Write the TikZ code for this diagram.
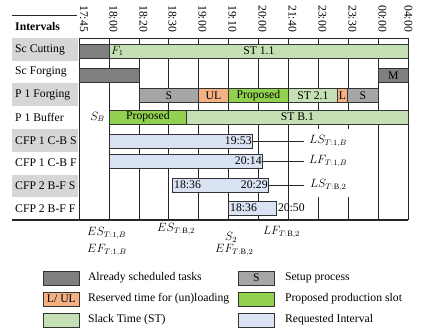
\documentclass[tikz,border=0pt]{standalone}
\usepackage{fontspec}
\setmainfont{Liberation Serif}
\usepackage{tikz}
\usetikzlibrary{positioning}
\definecolor{oldgray}{HTML}{7F7F7F}
\definecolor{setupgray}{HTML}{A6A6A6}
\definecolor{loadorange}{HTML}{F4B183}
\definecolor{propgreen}{HTML}{92D050}
\definecolor{slackgreen}{HTML}{C5E0B4}
\definecolor{reqblue}{HTML}{DAE3F3}
\definecolor{rowgray}{HTML}{D6D6D6}
\tikzset{
  taskbar/.style={draw=black!80, line width=0.8pt, anchor=west, minimum height=14pt, inner sep=0pt},
  oldbar/.style={taskbar, fill=oldgray},
  setupbar/.style={taskbar, fill=setupgray},
  loadbar/.style={taskbar, fill=loadorange},
  propbar/.style={taskbar, fill=propgreen},
  slackbar/.style={taskbar, fill=slackgreen},
  reqbar/.style={taskbar, fill=reqblue},
  rowlabel/.style={anchor=west, inner sep=0pt},
  timelabel/.style={rotate=-90, anchor=base west, inner sep=0pt},
  bound/.style={anchor=west, inner sep=0pt},
  latest/.style={anchor=west, fill=white, minimum width=48pt, minimum height=24pt, inner sep=0pt},
  gridline/.style={line width=0.8pt, draw=black!85},
  conn/.style={line width=0.6pt, draw=black!85},
  legbox/.style={draw=black!80, line width=0.8pt, minimum width=36pt, minimum height=14pt, inner sep=0pt, anchor=west}
}
\begin{document}
\begin{tikzpicture}[x=1pt, y=-1pt, font=\fontsize{11.7}{14}\selectfont]
\useasboundingbox (0,0) rectangle (423,334);
\fill[rowgray] (12,38) rectangle (77.5,60.75);
\fill[rowgray] (12,83.5) rectangle (77.5,106.25);
\fill[rowgray] (12,129) rectangle (77.5,151.75);
\fill[rowgray] (12,174.5) rectangle (77.5,197.25);
\draw[gridline] (12,15) -- (77,15);
\draw[gridline] (79,38) -- (408,38);
\draw[gridline, line width=1.1pt] (12,220) -- (408,220);
\draw[gridline] (79,38) -- (79,220);
\draw[gridline] (109,38) -- (109,220);
\draw[gridline] (139,38) -- (139,220);
\draw[gridline] (168,38) -- (168,220);
\draw[gridline] (198,38) -- (198,220);
\draw[gridline] (228,38) -- (228,220);
\draw[gridline] (258,38) -- (258,220);
\draw[gridline] (288,38) -- (288,220);
\draw[gridline] (318,38) -- (318,220);
\draw[gridline] (348,38) -- (348,220);
\draw[gridline] (378,38) -- (378,220);
\draw[gridline] (408,38) -- (408,220);

\node[rowlabel, font=\fontsize{11.7}{14}\selectfont\bfseries] (head) at (15,27) {Intervals};
\node[timelabel] (t0) at (80,5) {17:45};
\node[timelabel] (t1) at (109.5,5) {18:00};
\node[timelabel] (t2) at (139.5,5) {18:20};
\node[timelabel] (t3) at (168.5,5) {18:30};
\node[timelabel] (t4) at (198.5,5) {19:00};
\node[timelabel] (t5) at (228.5,5) {19:10};
\node[timelabel] (t6) at (258.5,5) {20:00};
\node[timelabel] (t7) at (288.5,5) {21:40};
\node[timelabel] (t8) at (318.5,5) {23:00};
\node[timelabel] (t9) at (348.5,5) {23:30};
\node[timelabel] (t10) at (378.5,5) {00:00};
\node[timelabel] (t11) at (404.5,5) {04:00};

\node[rowlabel] (r1) at (15,49.4) {Sc Cutting};
\node[rowlabel] (r2) at (15,72.1) {Sc Forging};
\node[rowlabel] (r3) at (15,94.9) {P 1 Forging};
\node[rowlabel] (r4) at (15,117.6) {P 1 Buffer};
\node[rowlabel] (r5) at (15,140.4) {CFP 1 C-B S};
\node[rowlabel] (r6) at (15,163.1) {CFP 1 C-B F};
\node[rowlabel] (r7) at (15,185.9) {CFP 2 B-F S};
\node[rowlabel] (r8) at (15,208.6) {CFP 2 B-F F};

\node[oldbar, minimum width=30pt] (cut0) at (79,51) {};
\node[slackbar, minimum width=299pt] (cut1) at (109,51) {ST 1.1};
\node[bound, right=2pt of cut1.west] (f1) {$F_1$};

\node[oldbar, minimum width=60pt] (forge0) at (79,75.5) {};
\node[oldbar, minimum width=30pt] (forge1) at (378,75.5) {M};

\node[setupbar, minimum width=59pt] (pf0) at (139,95.5) {S};
\node[loadbar, minimum width=30pt] (pf1) at (198,95.5) {UL};
\node[propbar, minimum width=60pt] (pf2) at (228,95.5) {Proposed};
\node[slackbar, minimum width=49pt] (pf3) at (288,95.5) {ST 2.1};
\node[loadbar, minimum width=10pt] (pf4) at (337,95.5) {L};
\node[setupbar, minimum width=31pt] (pf5) at (347,95.5) {S};

\node[propbar, minimum width=77pt] (buf0) at (109,117) {Proposed};
\node[slackbar, minimum width=222pt] (buf1) at (186,117) {ST B.1};
\node[bound, left=4pt of buf0.west] (sb) {$S_B$};

\node[reqbar, minimum width=143pt] (req1) at (109,141) {};
\node[bound, left=1pt of req1.east] (req1end) {19:53};
\node[reqbar, minimum width=153pt] (req2) at (109,161) {};
\node[bound, left=1pt of req2.east] (req2end) {20:14};
\node[reqbar, minimum width=96pt] (req3) at (172,185) {};
\node[bound, right=2pt of req3.west] (req3start) {18:36};
\node[bound, left=1pt of req3.east] (req3end) {20:29};
\node[reqbar, minimum width=48pt] (req4) at (228,208) {};
\node[bound, right=2pt of req4.west] (req4start) {18:36};
\node[bound, right=1pt of req4.east] (req4end) {20:50};

\node[latest] (ls1) at (304,141) {$LS_{T:1,B}$};
\node[latest] (lf1) at (304,161) {$LF_{T:1,B}$};
\node[latest] (ls2) at (304,185) {$LS_{T:\mathrm{B},2}$};
\draw[conn] (req1.east) -- (ls1.west);
\draw[conn] (req2.east) -- (lf1.west);
\draw[conn] (req3.east) -- (ls2.west);

\node[bound] (es1) at (87,233) {$ES_{T:1,B}$};
\node[bound] (ef1) at (87,250) {$EF_{T:1,B}$};
\node[bound] (es2) at (157,229) {$ES_{T:\mathrm{B},2}$};
\node[bound] (s2) at (225,237) {$S_2$};
\node[bound] (ef2) at (215,250) {$EF_{T:\mathrm{B},2}$};
\node[bound] (lf2) at (263,232) {$LF_{T:\mathrm{B},2}$};

\node[legbox, fill=oldgray] (lg1) at (43,278) {};
\node[bound, right=8pt of lg1] (lt1) {Already scheduled tasks};
\node[legbox, fill=loadorange] (lg2) at (43,299) {L/ UL};
\node[bound, right=8pt of lg2] (lt2) {Reserved time for (un)loading};
\node[legbox, fill=slackgreen] (lg3) at (43,320) {};
\node[bound, right=8pt of lg3] (lt3) {Slack Time (ST)};
\node[legbox, fill=setupgray] (lg4) at (238,278) {S};
\node[bound, right=10pt of lg4] (lt4) {Setup process};
\node[legbox, fill=propgreen] (lg5) at (238,299) {};
\node[bound, right=10pt of lg5] (lt5) {Proposed production slot};
\node[legbox, fill=reqblue] (lg6) at (238,320) {};
\node[bound, right=10pt of lg6] (lt6) {Requested Interval};
\end{tikzpicture}
\end{document}
